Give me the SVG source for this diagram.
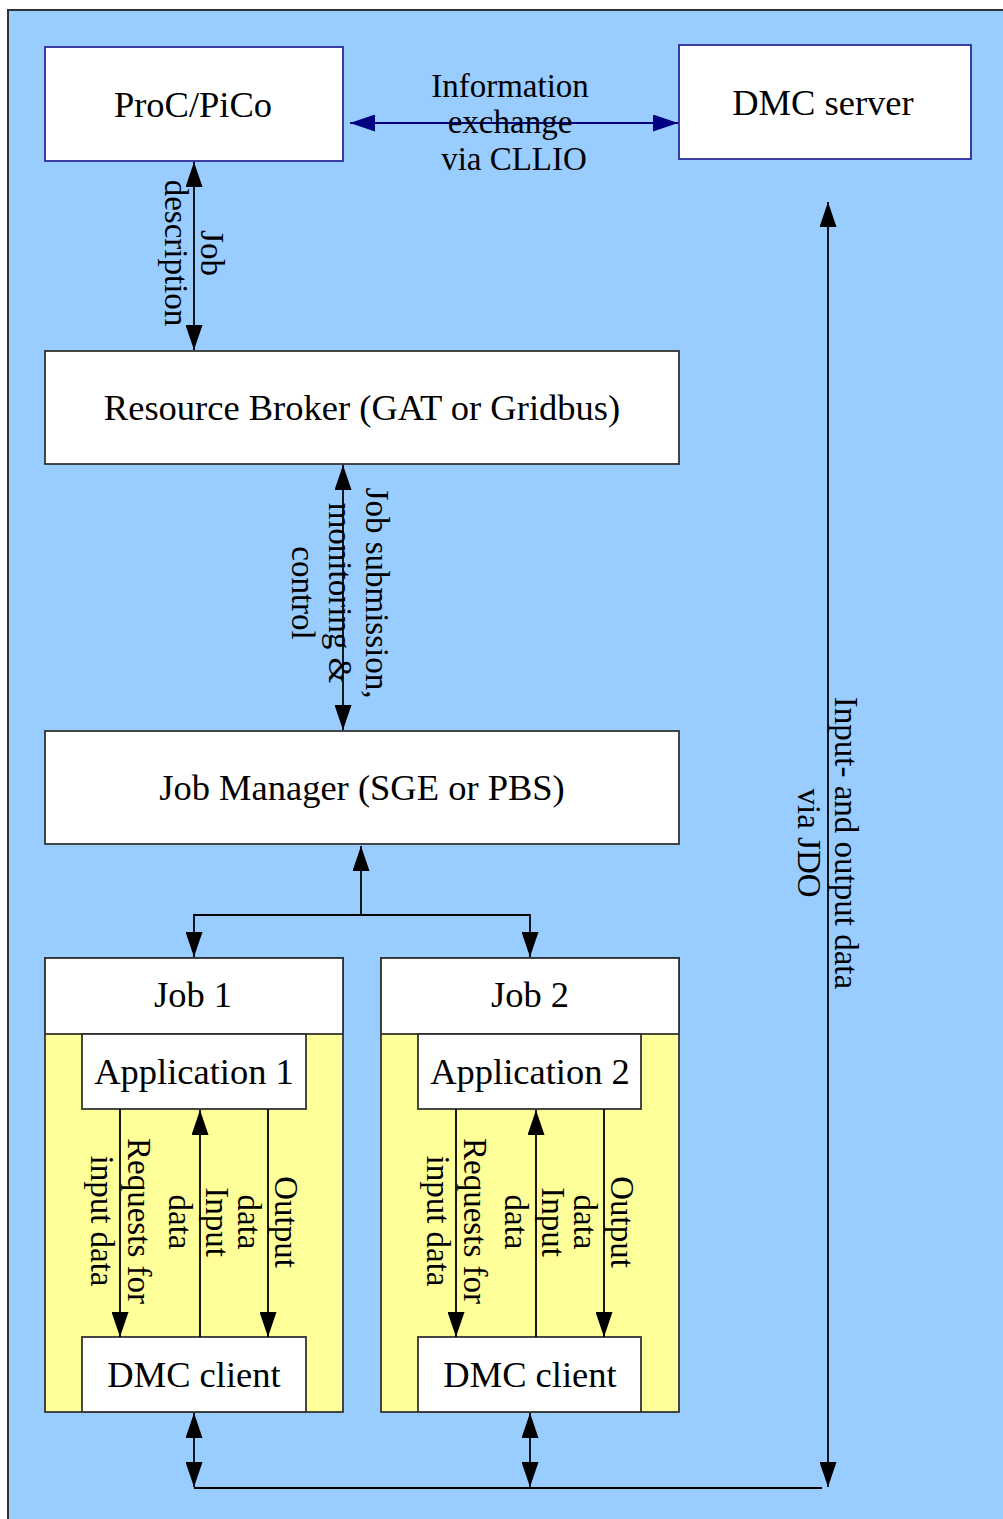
<svg xmlns="http://www.w3.org/2000/svg" width="1003" height="1519" viewBox="0 0 1003 1519">
<style>
.bg{fill:#99ccff;stroke:#333;stroke-width:2}
.box{fill:#ffffff;stroke:#333;stroke-width:1.8}
.bbox{fill:#ffffff;stroke:#2a2a9a;stroke-width:1.8}
.ybox{fill:#ffff99;stroke:#333;stroke-width:1.8}
.lbl{font-family:"Liberation Serif","Times New Roman",serif;font-size:36.5px;fill:#000;text-anchor:middle}
.el{font-family:"Liberation Serif","Times New Roman",serif;font-size:33px;fill:#000;text-anchor:middle}
.ln{stroke:#000;stroke-width:1.8;fill:none}
.nv{stroke:#000080;stroke-width:1.8;fill:none}
</style>
<defs>
<marker id="ah" markerUnits="userSpaceOnUse" markerWidth="25" markerHeight="17" viewBox="0 0 25 17" refX="25" refY="8.5" orient="auto-start-reverse"><path d="M0,0 L25,8.5 L0,17 Z" fill="#000"/></marker>
<marker id="ahn" markerUnits="userSpaceOnUse" markerWidth="25" markerHeight="17" viewBox="0 0 25 17" refX="25" refY="8.5" orient="auto-start-reverse"><path d="M0,0 L25,8.5 L0,17 Z" fill="#000080"/></marker>
</defs>
<rect x="0" y="0" width="1003" height="1519" fill="#ffffff"/>
<rect class="bg" x="8" y="10" width="1010" height="1530"/>

<g id="proc">
<rect class="bbox" x="45" y="47" width="298" height="114"/>
<text class="lbl" x="193" y="117">ProC/PiCo</text>
</g>
<g id="dmcserver">
<rect class="bbox" x="679" y="45" width="292" height="114"/>
<text class="lbl" x="823" y="115">DMC server</text>
</g>
<g id="broker">
<rect class="box" x="45" y="351" width="634" height="113"/>
<text class="lbl" x="362" y="420">Resource Broker (GAT or Gridbus)</text>
</g>
<g id="jobmanager">
<rect class="box" x="45" y="731" width="634" height="113"/>
<text class="lbl" x="362" y="800">Job Manager (SGE or PBS)</text>
</g>
<g id="job1">
<rect class="ybox" x="45" y="958" width="298" height="454"/>
<rect class="box" x="45" y="958" width="298" height="76"/>
<text class="lbl" x="193" y="1007">Job 1</text>
</g>
<g id="app1">
<rect class="box" x="82" y="1034" width="224" height="75"/>
<text class="lbl" x="194" y="1084">Application 1</text>
</g>
<g id="client1">
<rect class="box" x="82" y="1337" width="224" height="75"/>
<text class="lbl" x="194" y="1387">DMC client</text>
</g>
<g id="job2">
<rect class="ybox" x="381" y="958" width="298" height="454"/>
<rect class="box" x="381" y="958" width="298" height="76"/>
<text class="lbl" x="530" y="1007">Job 2</text>
</g>
<g id="app2">
<rect class="box" x="418" y="1034" width="223" height="75"/>
<text class="lbl" x="530" y="1084">Application 2</text>
</g>
<g id="client2">
<rect class="box" x="418" y="1337" width="223" height="75"/>
<text class="lbl" x="530" y="1387">DMC client</text>
</g>

<g id="connectors">
<line class="nv" x1="350" y1="123" x2="678" y2="123" marker-start="url(#ahn)" marker-end="url(#ahn)"/>
<line class="ln" x1="194" y1="162" x2="194" y2="350" marker-start="url(#ah)" marker-end="url(#ah)"/>
<line class="ln" x1="343" y1="465" x2="343" y2="730" marker-start="url(#ah)" marker-end="url(#ah)"/>
<line class="ln" x1="361" y1="915" x2="361" y2="846" marker-end="url(#ah)"/>
<polyline class="ln" points="194,957 194,915 530,915 530,957" marker-start="url(#ah)" marker-end="url(#ah)"/>
<line class="ln" x1="120" y1="1109" x2="120" y2="1337" marker-end="url(#ah)"/>
<line class="ln" x1="200" y1="1337" x2="200" y2="1110" marker-end="url(#ah)"/>
<line class="ln" x1="268" y1="1109" x2="268" y2="1337" marker-end="url(#ah)"/>
<line class="ln" x1="456" y1="1109" x2="456" y2="1337" marker-end="url(#ah)"/>
<line class="ln" x1="536" y1="1337" x2="536" y2="1110" marker-end="url(#ah)"/>
<line class="ln" x1="604" y1="1109" x2="604" y2="1337" marker-end="url(#ah)"/>
<line class="ln" x1="194" y1="1413" x2="194" y2="1487" marker-start="url(#ah)" marker-end="url(#ah)"/>
<line class="ln" x1="530" y1="1413" x2="530" y2="1487" marker-start="url(#ah)" marker-end="url(#ah)"/>
<line class="ln" x1="194" y1="1488" x2="822" y2="1488"/>
<line class="ln" x1="828" y1="202" x2="828" y2="1487" marker-start="url(#ah)" marker-end="url(#ah)"/>

<text class="el" x="510" y="97">Information</text>
<text class="el" x="510" y="133">exchange</text>
<text class="el" x="514" y="170">via CLLIO</text>

<g transform="translate(201,253) rotate(90)">
<text class="el" x="0" y="0">Job</text>
<text class="el" x="0" y="36">description</text>
</g>
<g transform="translate(366,593) rotate(90)">
<text class="el" x="0" y="0">Job submission,</text>
<text class="el" x="0" y="37">monitoring &amp;</text>
<text class="el" x="0" y="74">control</text>
</g>
<g transform="translate(128,1221) rotate(90)">
<text class="el" x="0" y="0">Requests for</text>
<text class="el" x="0" y="37">input data</text>
</g>
<g transform="translate(206,1222) rotate(90)">
<text class="el" x="0" y="0">Input</text>
<text class="el" x="0" y="37">data</text>
</g>
<g transform="translate(275,1222) rotate(90)">
<text class="el" x="0" y="0">Output</text>
<text class="el" x="0" y="37">data</text>
</g>
<g transform="translate(464,1221) rotate(90)">
<text class="el" x="0" y="0">Requests for</text>
<text class="el" x="0" y="37">input data</text>
</g>
<g transform="translate(542,1222) rotate(90)">
<text class="el" x="0" y="0">Input</text>
<text class="el" x="0" y="37">data</text>
</g>
<g transform="translate(611,1222) rotate(90)">
<text class="el" x="0" y="0">Output</text>
<text class="el" x="0" y="37">data</text>
</g>
<g transform="translate(835,843) rotate(90)">
<text class="el" x="0" y="0">Input- and output data</text>
<text class="el" x="0" y="37">via JDO</text>
</g>
</g>
</svg>
